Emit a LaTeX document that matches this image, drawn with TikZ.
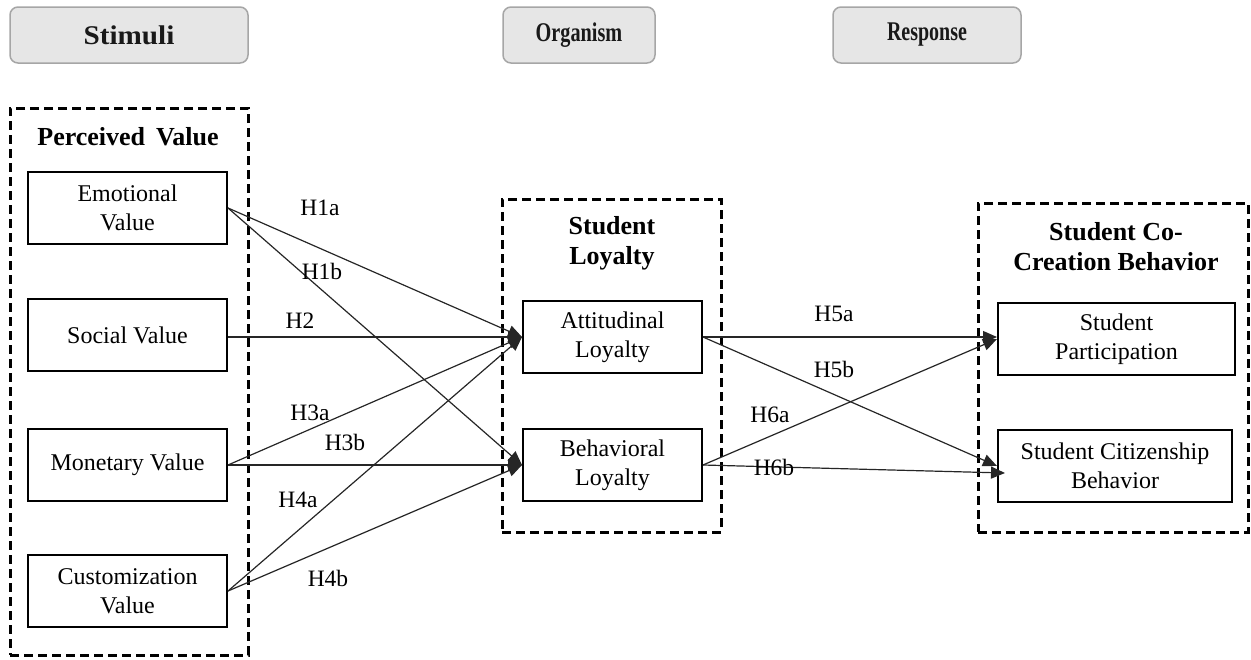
\documentclass[tikz,border=0pt]{standalone}
\usepackage{fontspec}
\setmainfont{Liberation Serif}
\usetikzlibrary{arrows.meta}
\definecolor{hdrfill}{HTML}{E6E6E6}
\definecolor{hdrline}{HTML}{A6A6A6}
\definecolor{linec}{HTML}{262626}
\begin{document}
\begin{tikzpicture}[x=1pt,y=-1pt,
  hdr/.style={draw=hdrline, fill=hdrfill, rounded corners=8pt, line width=1.5pt,
    minimum height=56pt, inner sep=0pt, text=black!90,
    font=\bfseries\fontsize{27}{32}\selectfont},
  grp/.style={draw, line width=3pt, dash pattern=on 9pt off 5pt, inner sep=0pt},
  ttl/.style={align=center, inner sep=0pt, font=\bfseries\fontsize{26}{30}\selectfont},
  var/.style={draw, line width=2pt, align=center, inner sep=0pt, minimum height=72pt,
    font=\fontsize{24}{29}\selectfont},
  lbl/.style={inner sep=0pt, font=\fontsize{23.5}{29}\selectfont},
  arr/.style={draw=linec, line width=1.2pt, -{Triangle[length=14pt,width=12pt]}}]
\useasboundingbox (0,0) rectangle (1251,659);

% headers
\node[hdr, minimum width=238pt] (stim) at (129,35) {\scalebox{1.08}[1]{Stimuli}};
\node[hdr, minimum width=152pt] (org) at (579,35) {\scalebox{0.75}[1]{Organism}};
\node[hdr, minimum width=188pt] (resp) at (927,35) {\scalebox{0.74}[1]{Response}};

% groups
\node[grp, minimum width=238pt, minimum height=547pt] (pv) at (129,381.5) {};
\node[grp, minimum width=219pt, minimum height=333pt] (sl) at (611.5,365.5) {};
\node[grp, minimum width=270pt, minimum height=329pt] (scb) at (1113,367.5) {};

\node[ttl] (pvt) at (128,137) {Perceived\, Value};
\node[ttl] (slt) at (612,243) {Student\\Loyalty};
\node[ttl] (scbt) at (1116,247) {Student Co-\\Creation Behavior};

% variables
\node[var, minimum width=199pt] (emo) at (127.5,208) {Emotional\\Value};
\node[var, minimum width=199pt] (soc) at (127.5,335) {Social Value};
\node[var, minimum width=199pt] (mon) at (127.5,465) {Monetary Value};
\node[var, minimum width=199pt] (cus) at (127.5,591) {Customization\\Value};

\node[var, minimum width=179pt] (att) at (612.5,337) {Attitudinal\\Loyalty};
\node[var, minimum width=179pt] (beh) at (612.5,465) {Behavioral\\Loyalty};

\node[var, minimum width=237pt] (par) at (1116.5,339) {Student\\Participation};
\node[var, minimum width=234pt] (cit) at (1115,466) {Student Citizenship\\Behavior};

\coordinate (h6bend) at (1005,473);

% connectors
\draw[arr] (emo.east) -- (att.west);
\draw[arr] (emo.east) -- (beh.west);
\draw[arr] (soc.east |- att.west) -- (att.west);
\draw[arr] (mon.east) -- (att.west);
\draw[arr] (mon.east) -- (beh.west);
\draw[arr] (cus.east) -- (att.west);
\draw[arr] (cus.east) -- (beh.west);

\draw[arr] (att.east) -- (par.west |- att.east);
\draw[arr] (att.east) -- (cit.west);
\draw[arr] (beh.east) -- (par.west);
\draw[arr] (beh.east) -- (h6bend);

% labels
\node[lbl] (l1a) at (320,208) {H1a};
\node[lbl] (l1b) at (322,271) {H1b};
\node[lbl] (l2) at (300,321) {H2};
\node[lbl] (l3a) at (310,413) {H3a};
\node[lbl] (l3b) at (345,442) {H3b};
\node[lbl] (l4a) at (298,500) {H4a};
\node[lbl] (l4b) at (328,578) {H4b};
\node[lbl] (l5a) at (834,314) {H5a};
\node[lbl] (l5b) at (834,369) {H5b};
\node[lbl] (l6a) at (770,415) {H6a};
\node[lbl] (l6b) at (774,467) {H6b};
\end{tikzpicture}
\end{document}
